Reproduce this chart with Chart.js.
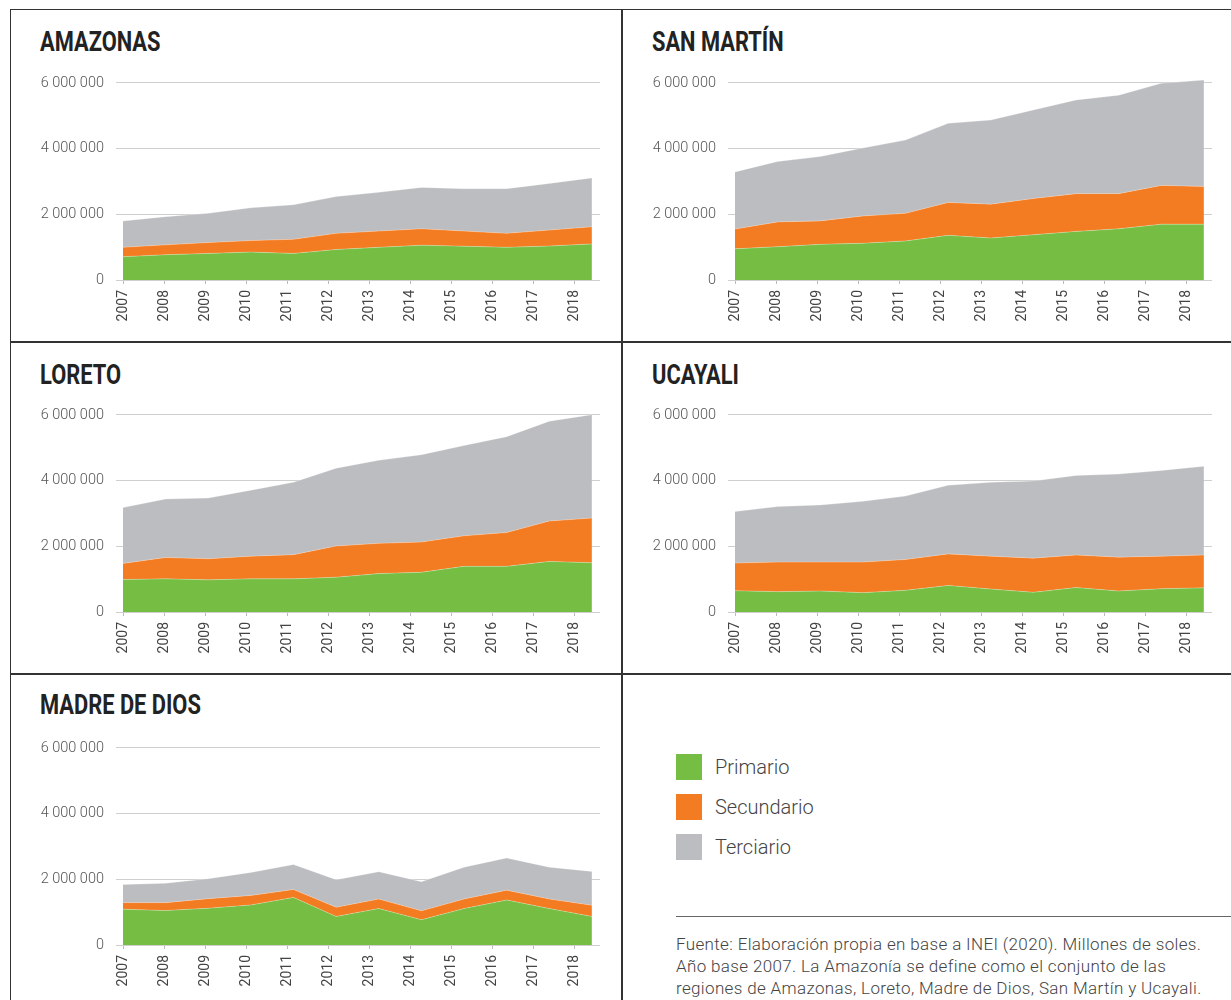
<!DOCTYPE html>
<html lang="es">
<head>
<meta charset="utf-8">
<script src="https://cdn.jsdelivr.net/npm/chart.js@4"></script>
<style>
  html, body { margin: 0; padding: 0; background: #fff; overflow: hidden; }
  body { width: 1231px; height: 1000px; position: relative; font-family: Roboto, sans-serif; }
  .linea { position: absolute; background: #333; }
  .titulo {
    position: absolute; font-size: 28px; line-height: 28px; font-weight: 700;
    color: #222; transform: scaleX(0.78); transform-origin: left top; white-space: nowrap;
  }
  canvas { position: absolute; }
  .leyenda { position: absolute; left: 676px; height: 26px; }
  .leyenda span.caja { position: absolute; left: 0; top: 0; width: 26px; height: 26px; }
  .leyenda span.txt {
    position: absolute; left: 39px; top: 0; font-size: 20px; line-height: 26px;
    font-weight: 300; color: #444; white-space: nowrap;
  }
  .separador { position: absolute; left: 676px; top: 916px; width: 560px; height: 1px; background: #666; }
  .fuente {
    position: absolute; left: 676px; top: 933px; width: 560px; white-space: nowrap;
    font-size: 17px; line-height: 22px; letter-spacing: 0.35px; font-weight: 300; color: #444;
  }
</style>
</head>
<body>

<!-- marco -->
<div class="linea" style="left:10px;top:9px;width:1221px;height:1px"></div>
<div class="linea" style="left:10px;top:9px;width:1px;height:991px"></div>
<div class="linea" style="left:621px;top:9px;width:2px;height:991px"></div>
<div class="linea" style="left:10px;top:341px;width:1221px;height:2px"></div>
<div class="linea" style="left:10px;top:673px;width:1221px;height:2px"></div>

<div class="titulo" style="left:40px;top:28px">AMAZONAS</div>
<div class="titulo" style="left:652px;top:28px">SAN MARTÍN</div>
<div class="titulo" style="left:40px;top:361px">LORETO</div>
<div class="titulo" style="left:652px;top:361px">UCAYALI</div>
<div class="titulo" style="left:40px;top:691px">MADRE DE DIOS</div>

<canvas id="amazonas" width="590" height="270" style="left:30px;top:70px"></canvas>
<canvas id="sanmartin" width="590" height="270" style="left:642px;top:70px"></canvas>
<canvas id="loreto" width="590" height="270" style="left:30px;top:402px"></canvas>
<canvas id="ucayali" width="590" height="270" style="left:642px;top:402px"></canvas>
<canvas id="madrededios" width="590" height="270" style="left:30px;top:735px"></canvas>

<div id="leyenda"></div>
<div class="separador"></div>
<div class="fuente">Fuente: Elaboración propia en base a INEI (2020). Millones de soles.<br>Año base 2007. La Amazonía se define como el conjunto de las<br>regiones de Amazonas, Loreto, Madre de Dios, San Martín y Ucayali.</div>

<script>
const anios = [2007, 2008, 2009, 2010, 2011, 2012, 2013, 2014, 2015, 2016, 2017, 2018];
const ticksY = [0, 2000000, 4000000, 6000000];
const sectores = ["Primario", "Secundario", "Terciario"];
const colores = ["#76be43", "#f37b21", "#bcbdc0"];

// Amazonas
const amazonasPrimario = [710000, 770000, 810000, 850000, 810000, 930000, 995000, 1060000, 1030000, 995000, 1035000, 1100000];
const amazonasSecundario = [285000, 300000, 330000, 350000, 430000, 490000, 495000, 500000, 460000, 425000, 485000, 520000];
const amazonasTerciario = [800000, 860000, 890000, 1000000, 1050000, 1120000, 1180000, 1260000, 1290000, 1360000, 1420000, 1490000];

// San Martín
const sanMartinPrimario = [950000, 1015000, 1085000, 1120000, 1190000, 1360000, 1280000, 1380000, 1480000, 1560000, 1700000, 1700000];
const sanMartinSecundario = [600000, 755000, 715000, 830000, 840000, 1000000, 1030000, 1100000, 1150000, 1070000, 1180000, 1150000];
const sanMartinTerciario = [1740000, 1840000, 1960000, 2070000, 2230000, 2410000, 2560000, 2700000, 2850000, 3000000, 3110000, 3240000];

// Loreto
const loretoPrimario = [990000, 1010000, 980000, 1010000, 1010000, 1060000, 1170000, 1210000, 1390000, 1390000, 1540000, 1500000];
const loretoSecundario = [490000, 650000, 640000, 690000, 735000, 950000, 920000, 920000, 930000, 1030000, 1230000, 1360000];
const loretoTerciario = [1700000, 1780000, 1850000, 2010000, 2205000, 2370000, 2530000, 2660000, 2750000, 2920000, 3040000, 3150000];

// Ucayali
const ucayaliPrimario = [650000, 620000, 640000, 590000, 660000, 810000, 700000, 600000, 745000, 640000, 710000, 735000];
const ucayaliSecundario = [840000, 900000, 880000, 930000, 940000, 960000, 1000000, 1040000, 990000, 1030000, 990000, 1000000];
const ucayaliTerciario = [1570000, 1690000, 1740000, 1850000, 1930000, 2090000, 2250000, 2350000, 2425000, 2530000, 2610000, 2705000];

// Madre de Dios
const madrePrimario = [1090000, 1050000, 1120000, 1220000, 1450000, 870000, 1110000, 770000, 1110000, 1370000, 1110000, 870000];
const madreSecundario = [200000, 240000, 290000, 290000, 240000, 280000, 290000, 270000, 290000, 300000, 290000, 340000];
const madreTerciario = [550000, 590000, 610000, 700000, 760000, 840000, 830000, 890000, 970000, 980000, 970000, 1030000];

// las areas llegan un poco mas lejos que las marcas de los anios
const xDatosMax = anios.length - 1 + 0.19;
const xAniosMax = anios[anios.length - 1] + 0.61;
// un poco de aire arriba de 6 000 000 para San Martín
const yMax = 6100000;

function formatoMiles(v) {
  return String(v).replace(/\B(?=(\d{3})+(?!\d))/g, " ");
}

function crearGrafica(id, series) {
  const datasets = series.map((valores, i) => ({
    label: sectores[i],
    xAxisID: "xd",
    data: valores.map((v, j) => ({ x: j, y: v })),
    backgroundColor: colores[i],
    borderColor: "rgba(255,255,255,0.35)",
    borderWidth: 0.8,
    pointRadius: 0,
    tension: 0,
    fill: i === 0 ? "origin" : "-1",
  }));

  new Chart(document.getElementById(id), {
    type: "line",
    data: { datasets: datasets },
    options: {
      responsive: false,
      animation: false,
      layout: { padding: { top: 9.7, right: 20, left: 0, bottom: 0 } },
      plugins: { legend: { display: false }, tooltip: { enabled: false } },
      scales: {
        xd: { type: "linear", display: false, min: 0, max: xDatosMax },
        x: {
          type: "linear",
          position: "bottom",
          min: anios[0],
          max: xAniosMax,
          afterBuildTicks: (s) => { s.ticks = anios.map((a) => ({ value: a })); },
          afterFit: (s) => { s.height = 60; s.paddingLeft = 0; s.paddingRight = 0; },
          grid: { drawOnChartArea: false, drawTicks: true, tickLength: 4, color: "#bbb" },
          border: { display: false },
          ticks: {
            autoSkip: false,
            minRotation: 90,
            maxRotation: 90,
            padding: 6,
            color: "#444",
            font: { family: "Roboto", size: 14 },
            callback: (v) => String(v),
          },
        },
        y: {
          stacked: true,
          min: 0,
          max: yMax,
          afterBuildTicks: (s) => { s.ticks = ticksY.map((t) => ({ value: t })); },
          afterFit: (s) => { s.width = 93; s.paddingTop = 0; s.paddingBottom = 0; },
          grid: { color: "#cfcfcf", lineWidth: 1, drawTicks: true, tickLength: 7 },
          border: { display: false },
          ticks: {
            padding: 12,
            color: "#555",
            font: { family: "Roboto", size: 14.5, weight: "300" },
            callback: (v) => formatoMiles(v),
          },
        },
      },
    },
  });
}

crearGrafica("amazonas", [amazonasPrimario, amazonasSecundario, amazonasTerciario]);
crearGrafica("sanmartin", [sanMartinPrimario, sanMartinSecundario, sanMartinTerciario]);
crearGrafica("loreto", [loretoPrimario, loretoSecundario, loretoTerciario]);
crearGrafica("ucayali", [ucayaliPrimario, ucayaliSecundario, ucayaliTerciario]);
crearGrafica("madrededios", [madrePrimario, madreSecundario, madreTerciario]);

// leyenda
const divLeyenda = document.getElementById("leyenda");
let htmlLeyenda = "";
sectores.forEach((s, i) => {
  htmlLeyenda += `
    <div class="leyenda" style="top:${754 + i * 40}px">
      <span class="caja" style="background:${colores[i]}"></span>
      <span class="txt">${s}</span>
    </div>`;
});
divLeyenda.innerHTML = htmlLeyenda;
</script>
</body>
</html>
